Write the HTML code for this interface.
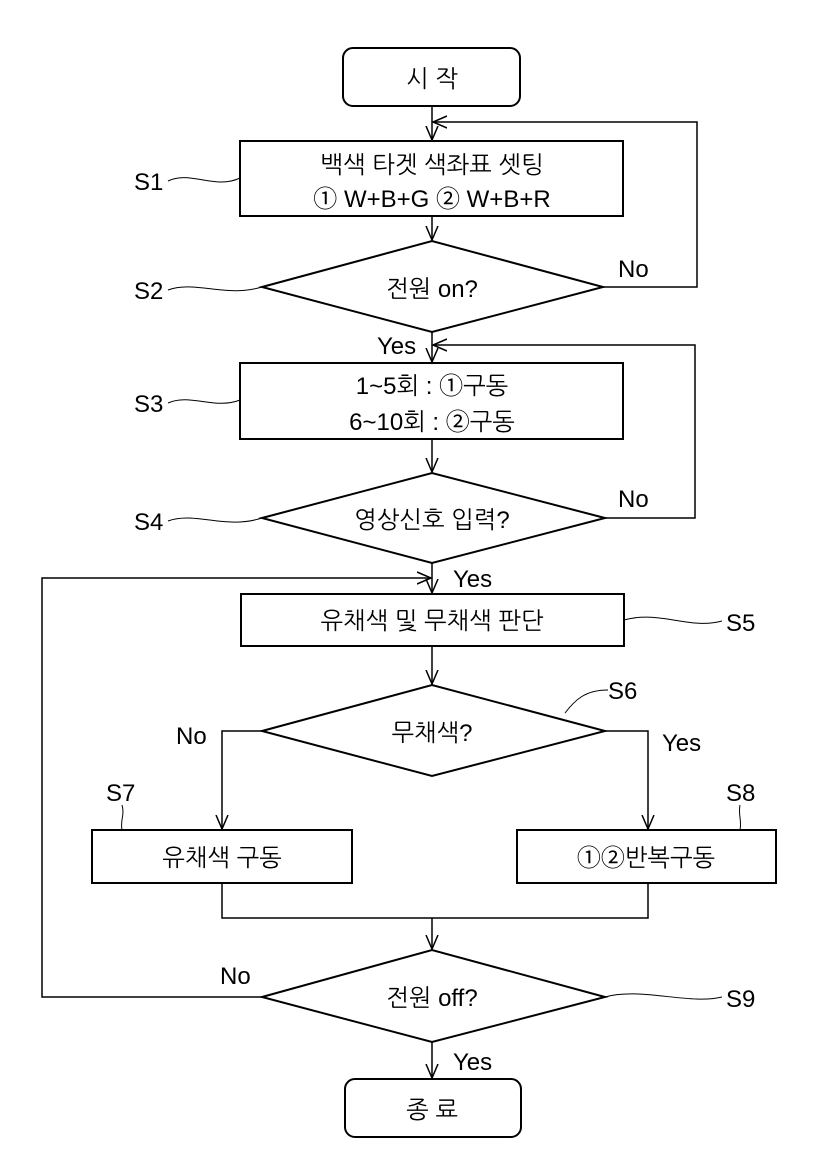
<!DOCTYPE html>
<html><head><meta charset="utf-8"><style>
body{margin:0;background:#fff}
text{font-family:"Liberation Sans","NanumGothic","Noto Sans CJK KR",sans-serif;font-size:24px;fill:#000}
</style></head><body>
<svg width="818" height="1146" viewBox="0 0 818 1146" xmlns="http://www.w3.org/2000/svg">
<defs><marker id="a" markerWidth="16" markerHeight="14" refX="14" refY="7" orient="auto" markerUnits="userSpaceOnUse"><path d="M0,1 L14,7 L0,13" fill="none" stroke="#000" stroke-width="1.5"/></marker></defs>
<g fill="none" stroke="#000" stroke-width="2">
<rect x="343" y="48" width="177" height="58" rx="10"/>
<rect x="240" y="141" width="383" height="75"/>
<polygon points="262,287 432,241 603,287 432,332"/>
<rect x="240" y="363" width="383" height="76"/>
<polygon points="262,518 432,473 605,518 432,563"/>
<rect x="241" y="594" width="383" height="52"/>
<polygon points="262,731 432,685 605,731 432,776"/>
<rect x="92" y="830" width="260" height="53"/>
<rect x="517" y="830" width="259" height="53"/>
<polygon points="262,997 432,950 605,997 432,1042"/>
<rect x="345" y="1079" width="176" height="58" rx="10"/>
</g>
<g fill="none" stroke="#000" stroke-width="1.5">
<line x1="432" y1="106" x2="432" y2="140" marker-end="url(#a)"/>
<polyline points="603,287 697,287 697,122 433,122" marker-end="url(#a)"/>
<line x1="432" y1="216" x2="432" y2="240" marker-end="url(#a)"/>
<line x1="432" y1="332" x2="432" y2="362" marker-end="url(#a)"/>
<polyline points="605,518 695,518 695,345 433,345" marker-end="url(#a)"/>
<line x1="432" y1="439" x2="432" y2="472" marker-end="url(#a)"/>
<line x1="432" y1="563" x2="432" y2="593" marker-end="url(#a)"/>
<polyline points="262,997 42,997 42,578 431,578" marker-end="url(#a)"/>
<line x1="432" y1="646" x2="432" y2="684" marker-end="url(#a)"/>
<polyline points="262,731 222,731 222,829" marker-end="url(#a)"/>
<polyline points="605,731 648,731 648,829" marker-end="url(#a)"/>
<polyline points="222,883 222,918 648,918 648,883"/>
<line x1="432" y1="918" x2="432" y2="949" marker-end="url(#a)"/>
<line x1="432" y1="1042" x2="432" y2="1078" marker-end="url(#a)"/>
<g stroke-width="1">
<path d="M168,181 C190,170 215,190 240,178"/>
<path d="M168,290 C195,280 225,298 262,287"/>
<path d="M168,403 C190,393 215,410 240,400"/>
<path d="M168,521 C195,511 225,530 262,518"/>
<path d="M624,620 C660,610 690,630 722,621"/>
<path d="M565,713 C575,700 585,690 608,690"/>
<path d="M122,830 C120,820 125,815 122,805"/>
<path d="M740,830 C742,820 738,815 740,805"/>
<path d="M605,997 C640,987 690,1005 722,997"/>
</g>
</g>
<g text-anchor="middle">
<text x="432" y="87">시 작</text>
<text x="432" y="173">백색 타겟 색좌표 셋팅</text>
<text x="432" y="207">① W+B+G ② W+B+R</text>
<text x="432" y="297">전원 on?</text>
<text x="432" y="394">1~5회 : ①구동</text>
<text x="432" y="430">6~10회 : ②구동</text>
<text x="432" y="528">영상신호 입력?</text>
<text x="432" y="629">유채색 및 무채색 판단</text>
<text x="432" y="741">무채색?</text>
<text x="222" y="866">유채색 구동</text>
<text x="646" y="866">①②반복구동</text>
<text x="432" y="1006">전원 off?</text>
<text x="432" y="1118">종 료</text>
</g>
<text x="134" y="190">S1</text>
<text x="134" y="299">S2</text>
<text x="134" y="412">S3</text>
<text x="134" y="530">S4</text>
<text x="726" y="631">S5</text>
<text x="608" y="699">S6</text>
<text x="106" y="801">S7</text>
<text x="726" y="801">S8</text>
<text x="726" y="1007">S9</text>
<text x="618" y="277">No</text>
<text x="377" y="354">Yes</text>
<text x="618" y="507">No</text>
<text x="453" y="587">Yes</text>
<text x="176" y="744">No</text>
<text x="662" y="751">Yes</text>
<text x="220" y="984">No</text>
<text x="453" y="1070">Yes</text>
</svg>
</body></html>
